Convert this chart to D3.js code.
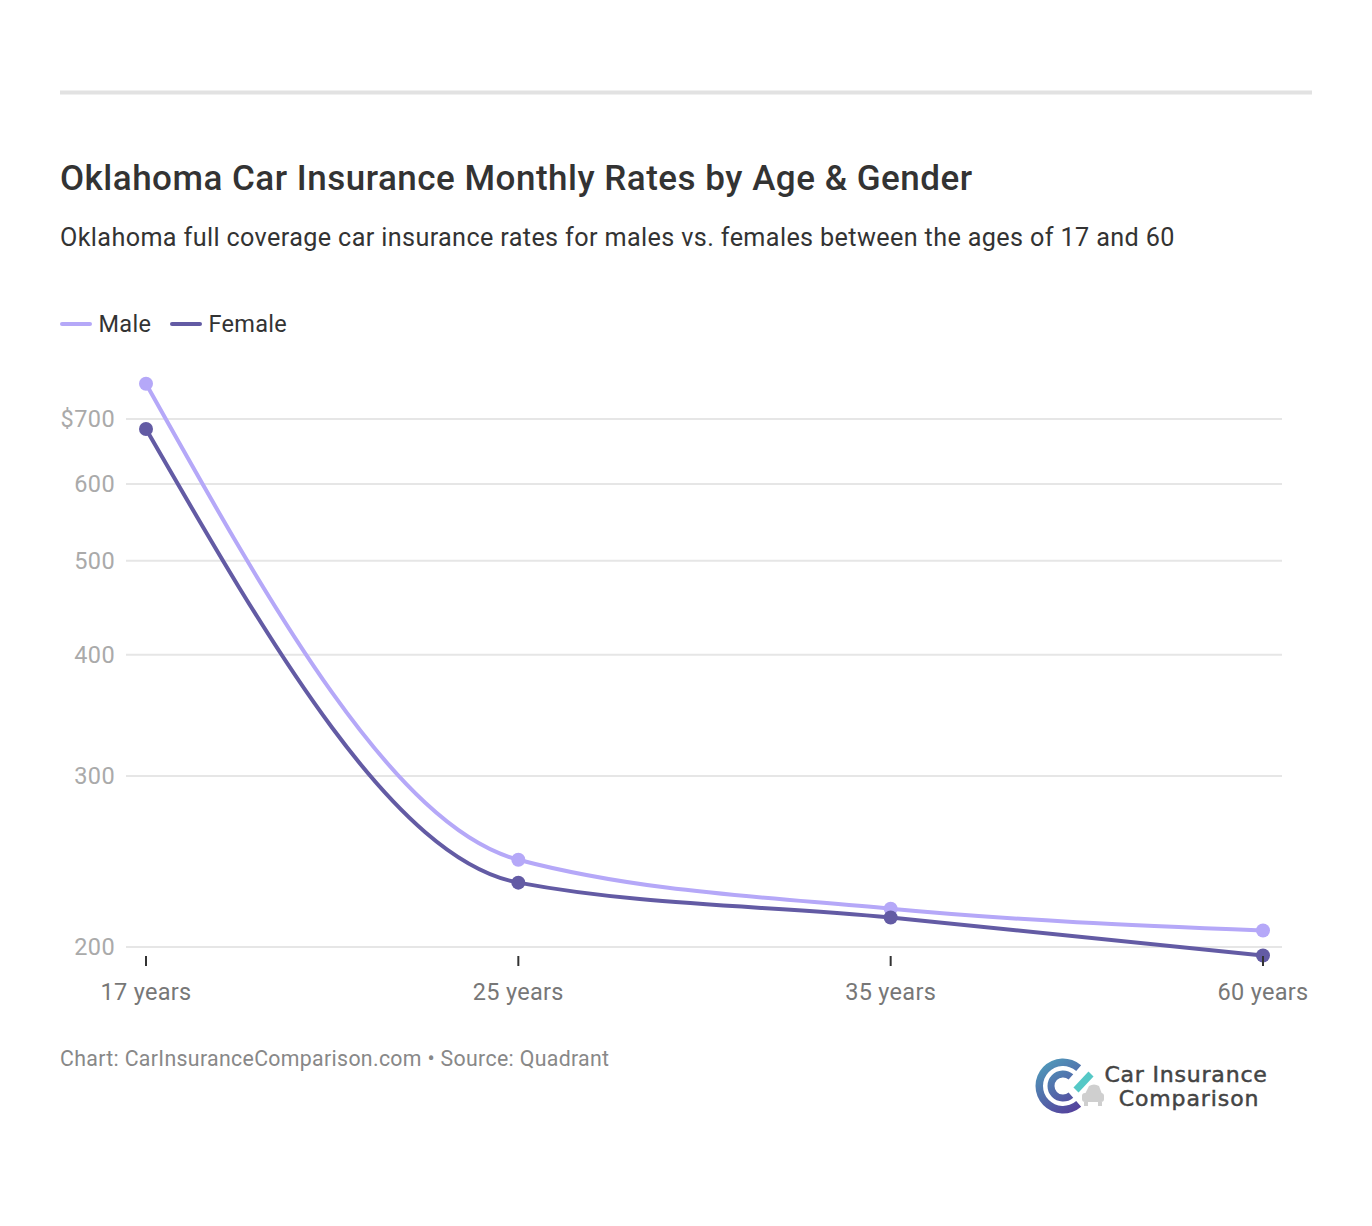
<!DOCTYPE html>
<html>
<head>
<meta charset="utf-8">
<script src="https://cdn.jsdelivr.net/npm/d3@7"></script>
<style>
  body { margin: 0; background: #fff; }
  svg { display: block; font-family: Roboto, sans-serif; }
</style>
</head>
<body>
<svg id="chart" width="1372" height="1226"></svg>
<script>
const AGES = ["17 years", "25 years", "35 years", "60 years"];
const MALE = [761, 246, 219, 208];
const FEMALE = [683.5, 233, 214.5, 196];
const Y_TICKS = [200, 300, 400, 500, 600, 700];
const SERIES = [
  { name: "Male", values: MALE, color: "#b5a8f8" },
  { name: "Female", values: FEMALE, color: "#635ba4" },
];

const svg = d3.select("#chart");

svg.append("rect").attr("x", 60).attr("y", 90.5).attr("width", 1252).attr("height", 4).attr("fill", "#e2e2e2");

svg.append("text").attr("x", 60).attr("y", 190)
  .attr("font-size", 35).attr("font-weight", 500).attr("fill", "#333")
  .style("letter-spacing", "0.5px")
  .text("Oklahoma Car Insurance Monthly Rates by Age & Gender");
svg.append("text").attr("x", 60).attr("y", 246)
  .attr("font-size", 25.2).attr("fill", "#333")
  .style("letter-spacing", "0.37px")
  .text("Oklahoma full coverage car insurance rates for males vs. females between the ages of 17 and 60");

// legend
const legendX = [60, 170];
SERIES.forEach((s, i) => {
  svg.append("line")
    .attr("x1", legendX[i] + 2).attr("x2", legendX[i] + 30)
    .attr("y1", 324).attr("y2", 324)
    .attr("stroke", s.color).attr("stroke-width", 4).attr("stroke-linecap", "round");
  svg.append("text").attr("x", legendX[i] + 38.5).attr("y", 332)
    .attr("font-size", 23.5).attr("fill", "#333")
    .style("letter-spacing", "0.3px").text(s.name);
});

const x = d3.scalePoint().domain(AGES).range([146, 1263]);
const y = d3.scaleLog().domain([200, 700]).range([947, 419]);

// grid + y labels
svg.selectAll(".grid").data(Y_TICKS).join("line")
  .attr("x1", 126).attr("x2", 1282)
  .attr("y1", d => y(d)).attr("y2", d => y(d))
  .attr("stroke", "#e6e6e6").attr("stroke-width", 2);
svg.selectAll(".ylab").data(Y_TICKS).join("text")
  .attr("x", 115).attr("y", d => y(d) + 8)
  .attr("text-anchor", "end").attr("font-size", 23.5).attr("fill", "#aaa")
  .style("letter-spacing", "0.4px")
  .text(d => d === 700 ? "$700" : d);

// x axis ticks
svg.selectAll(".xlab").data(AGES).join("text")
  .attr("x", d => x(d)).attr("y", 1000)
  .attr("text-anchor", "middle").attr("font-size", 23.5).attr("fill", "#777")
  .style("letter-spacing", "0.3px")
  .text(d => d);

const line = d3.line()
  .curve(d3.curveMonotoneX)
  .x((d, i) => x(AGES[i]))
  .y(d => y(d));

SERIES.forEach(s => {
  svg.append("path").attr("d", line(s.values))
    .attr("fill", "none").attr("stroke", s.color).attr("stroke-width", 4);
  svg.append("g").selectAll("circle").data(s.values).join("circle")
    .attr("cx", (d, i) => x(AGES[i])).attr("cy", d => y(d)).attr("r", 7)
    .attr("fill", s.color);
});

svg.selectAll(".xtick").data(AGES).join("line")
  .attr("x1", d => x(d)).attr("x2", d => x(d))
  .attr("y1", 956).attr("y2", 966)
  .attr("stroke", "#333").attr("stroke-width", 2);

svg.append("text").attr("x", 60).attr("y", 1066)
  .attr("font-size", 21.3).attr("fill", "#888")
  .style("letter-spacing", "0.33px")
  .text("Chart: CarInsuranceComparison.com • Source: Quadrant");

// logo
const defs = svg.append("defs");
const grad = defs.append("linearGradient").attr("id", "logoGrad")
  .attr("gradientUnits", "userSpaceOnUse")
  .attr("x1", -24).attr("y1", -24).attr("x2", 10).attr("y2", 28);
grad.append("stop").attr("offset", "0").attr("stop-color", "#4f9dbb");
grad.append("stop").attr("offset", "1").attr("stop-color", "#55409c");

const logo = svg.append("g").attr("transform", "translate(1063,1086)");
const arc = d3.arc();
const R = Math.PI / 2;
logo.append("path")
  .attr("d", arc({ innerRadius: 20, outerRadius: 27.5, startAngle: R + 0.85, endAngle: 2 * Math.PI + R - 0.85 }))
  .attr("fill", "url(#logoGrad)");
logo.append("path")
  .attr("d", arc({ innerRadius: 8.5, outerRadius: 15.5, startAngle: R + 0.85, endAngle: 2 * Math.PI + R - 0.85 }))
  .attr("fill", "url(#logoGrad)");
logo.append("line")
  .attr("x1", 13).attr("y1", 4).attr("x2", 28).attr("y2", -12)
  .attr("stroke", "#55c8c6").attr("stroke-width", 7);
const car = logo.append("g").attr("fill", "#cfcfcf");
car.append("rect").attr("x", 19).attr("y", 7).attr("width", 22).attr("height", 9).attr("rx", 3);
car.append("path").attr("d", "M22 8 L26 0 Q31 -3 36 0 L39 8 Z");
car.append("rect").attr("x", 21).attr("y", 16).attr("width", 4).attr("height", 4);
car.append("rect").attr("x", 35).attr("y", 16).attr("width", 4).attr("height", 4);

const logoFont = "'DejaVu Sans', sans-serif";
svg.append("text").attr("x", 1186).attr("y", 1082).attr("text-anchor", "middle")
  .attr("font-family", logoFont).style("letter-spacing", "0.8px")
  .attr("stroke", "#444").attr("stroke-width", 0.5)
  .attr("font-size", 22).attr("fill", "#444").text("Car Insurance");
svg.append("text").attr("x", 1189).attr("y", 1106).attr("text-anchor", "middle")
  .attr("font-family", logoFont).style("letter-spacing", "0.9px")
  .attr("stroke", "#444").attr("stroke-width", 0.5)
  .attr("font-size", 22).attr("fill", "#444").text("Comparison");
</script>
</body>
</html>
